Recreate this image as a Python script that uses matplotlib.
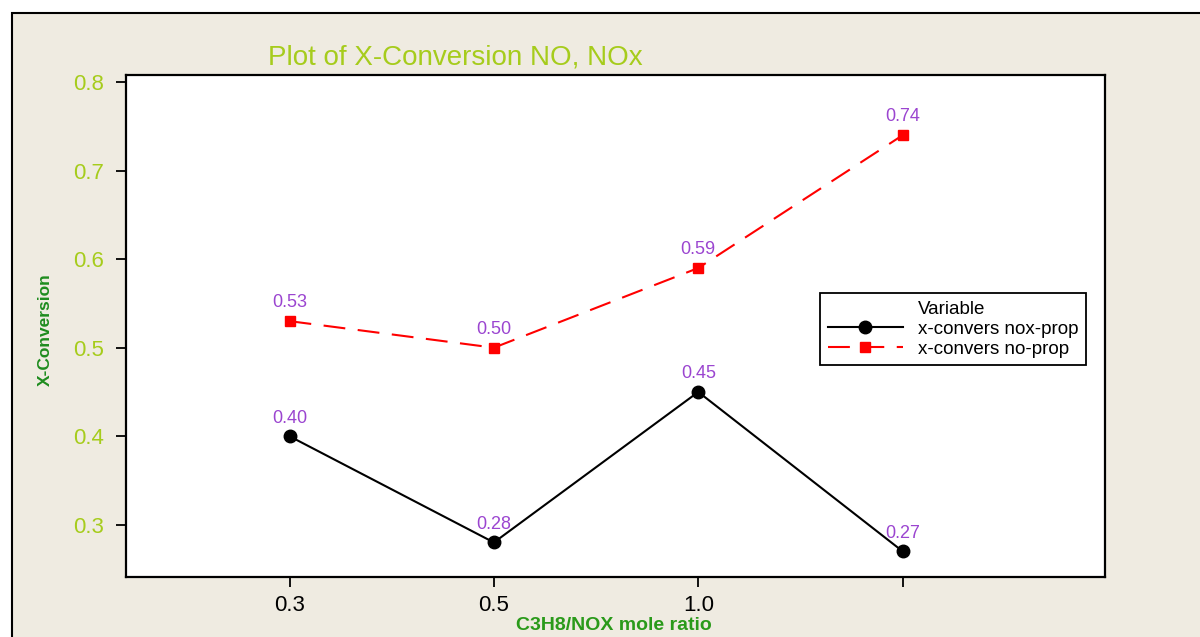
import matplotlib.pyplot as plt
from matplotlib.patches import Rectangle
from matplotlib.lines import Line2D

# datos
ratios = ["0.3", "0.5", "1.0", ""]
x_pos = [1, 2, 3, 4]
nox_prop = [0.40, 0.28, 0.45, 0.27]
no_prop = [0.53, 0.50, 0.59, 0.74]
y_ticks = [0.3, 0.4, 0.5, 0.6, 0.7, 0.8]

plt.rcParams['font.family'] = ['Liberation Sans', 'DejaVu Sans']

fig = plt.figure(figsize=(12, 6.37), dpi=100)
fig.patch.set_facecolor('white')

# fondo beige con borde
fig.patches.append(Rectangle((12 / 1200, -0.1), 1.2, 1.1 - 13 / 637,
                             transform=fig.transFigure, facecolor='#efebe1',
                             edgecolor='black', linewidth=1.5, zorder=-10))

ax = fig.add_axes([126 / 1200, 1 - 577 / 637, 979 / 1200, 502 / 637])
ax.set_zorder(1)
ax.set_facecolor('white')

ax.plot(x_pos, nox_prop, color='black', linewidth=1.5, marker='o',
        markersize=9, label='x-convers nox-prop')
ax.plot(x_pos, no_prop, color='red', linewidth=1.5, dashes=(10.5, 6),
        marker='s', markersize=7.5, label='x-convers no-prop')

for x, y in zip(x_pos, nox_prop):
    ax.annotate('%.2f' % y, (x, y), xytext=(0, 7), textcoords='offset points',
                ha='center', va='bottom', color='#9b45d0', fontsize=13,
                fontweight='medium')
for x, y in zip(x_pos, no_prop):
    ax.annotate('%.2f' % y, (x, y), xytext=(0, 7), textcoords='offset points',
                ha='center', va='bottom', color='#9b45d0', fontsize=13,
                fontweight='medium')

ax.set_xlim(0.2, 4.99)
ax.set_ylim(0.241, 0.808)
ax.set_xticks(x_pos)
ax.set_xticklabels(ratios)
ax.set_yticks(y_ticks)
ax.set_yticklabels(['%.1f' % v for v in y_ticks])
ax.tick_params(axis='both', direction='out', length=7, width=1.3, labelsize=16)
ax.tick_params(axis='y', labelcolor='#a6cc1c', pad=9)
ax.tick_params(axis='x', labelcolor='black', pad=6)
for s in ax.spines.values():
    s.set_linewidth(1.6)
    s.set_color('black')

fig.text(268 / 1200, 1 - 58 / 637, 'Plot of X-Conversion NO, NOx', color='#a6cc1c',
         fontsize=20, ha='left', va='center')
fig.text(45 / 1200, 1 - 330 / 637, 'X-Conversion', color='#1e8c1e', fontsize=12.5,
         fontweight='bold', rotation=90, ha='center', va='center')
fig.text(614 / 1200, 1 - 626 / 637, 'C3H8/NOX mole ratio', color='#2a9a1a',
         fontsize=14, fontweight='bold', ha='center', va='center')

handles = [Line2D([], [], linestyle='none')] + ax.get_lines()
labels = ['Variable', 'x-convers nox-prop', 'x-convers no-prop']
leg = ax.legend(handles, labels, loc='upper left',
                bbox_to_anchor=((820 - 126) / 979, (577 - 293) / 502),
                borderaxespad=0, fontsize=13.5, frameon=True, fancybox=False,
                edgecolor='black', framealpha=1, handlelength=4.0, borderpad=0.4,
                labelspacing=0.15, handletextpad=0.8)
leg.get_frame().set_linewidth(1.3)

plt.savefig('out.png', dpi=100)
